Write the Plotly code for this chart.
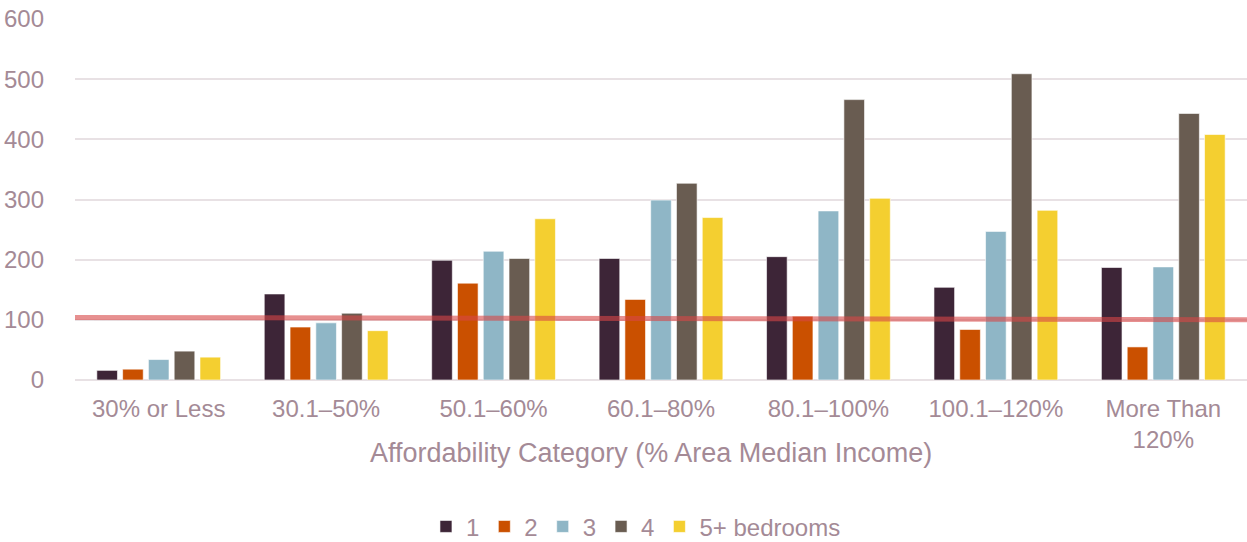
import plotly.graph_objects as go

categories = ["30% or Less", "30.1–50%", "50.1–60%", "60.1–80%", "80.1–100%", "100.1–120%", "More Than<br>120%"]
series_names = ["1", "2", "3", "4", "5+ bedrooms"]
br1 = [16, 143, 199, 202, 205, 154, 187]
br2 = [18, 88, 161, 134, 106, 84, 55]
br3 = [34, 95, 214, 299, 281, 247, 188]
br4 = [48, 111, 202, 327, 466, 509, 443]
br5 = [38, 82, 268, 270, 302, 282, 408]
threshold = [104, 100]
y_ticks = [0, 100, 200, 300, 400, 500, 600]
x_title = "Affordability Category (% Area Median Income)"

colors = ["#3D2537", "#CA5000", "#8FB6C6", "#695C51", "#F4CF30"]
text_color = "#A48A96"
font_family = "Liberation Sans, Arial, sans-serif"

fig = go.Figure()
for name, vals, c in zip(series_names, [br1, br2, br3, br4, br5], colors):
    fig.add_trace(go.Bar(x=categories, y=vals, name=name, marker_color=c,
                         marker_line=dict(color="rgba(255,255,255,0.6)", width=1)))

fig.add_shape(type="line", xref="paper", yref="y", x0=0, x1=1,
              y0=threshold[0], y1=threshold[1],
              line=dict(color="rgba(215,70,70,0.6)", width=5), layer="above")

fig.add_annotation(text=x_title, xref="paper", yref="paper", x=0.4915, y=-0.202,
                   xanchor="center", yanchor="middle", showarrow=False,
                   font=dict(size=27, color=text_color, family=font_family))

fig.update_layout(
    width=1247, height=542,
    margin=dict(l=75, r=0, t=19, b=162, autoexpand=False),
    paper_bgcolor="white", plot_bgcolor="white",
    barmode="group", bargap=0.23, bargroupgap=0.2,
    font=dict(family=font_family, color=text_color, size=24),
    legend=dict(orientation="h", xref="container", x=0.51, xanchor="center",
                yref="container", y=0.028, yanchor="middle",
                font=dict(size=24, color=text_color), itemwidth=30, tracegroupgap=0),
    xaxis=dict(tickfont=dict(size=24, color=text_color), showgrid=False, automargin=False,
               showline=False, ticks="", ticklabelstandoff=12),
    yaxis=dict(range=[0, 600], tickvals=y_ticks, tickfont=dict(size=24, color=text_color),
               gridcolor="#E8E1E4", gridwidth=1.5, zeroline=True, zerolinecolor="#E8E1E4",
               zerolinewidth=1.5, showline=False, ticks="", ticklabelstandoff=30,
               automargin=False),
)

fig.write_html("out.html")
